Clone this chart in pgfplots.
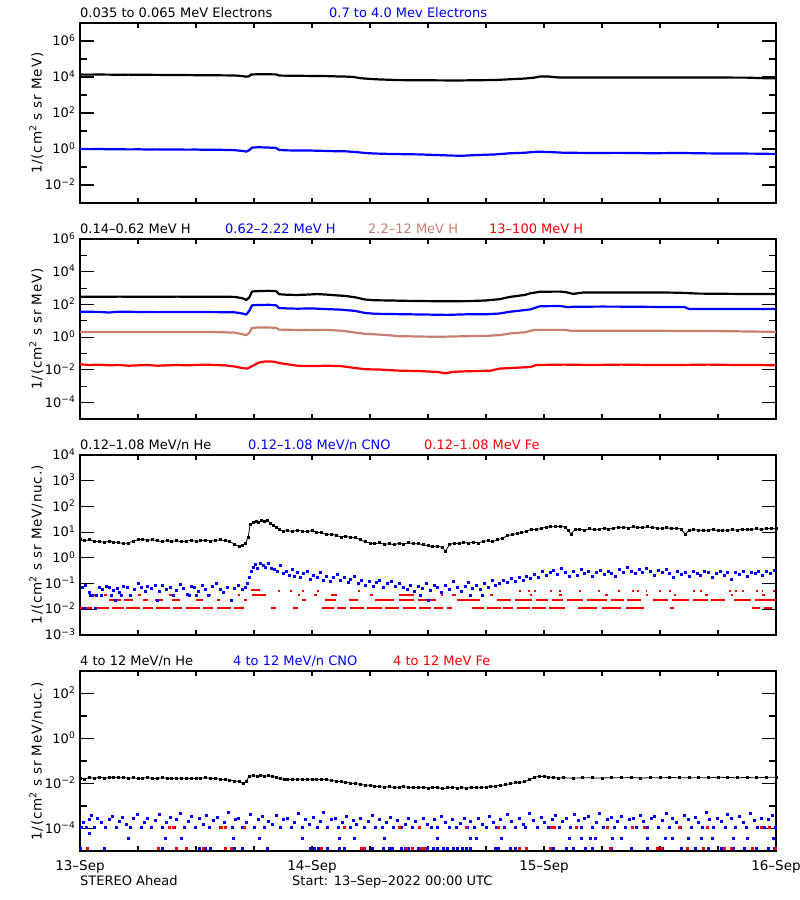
\documentclass[border=0pt]{standalone}
\usepackage{fontspec}
\setmainfont{DejaVu Sans}
\usepackage{pgfplots}
\pgfplotsset{compat=1.18}
\definecolor{cblue}{RGB}{0,0,255}
\definecolor{cred}{RGB}{255,0,0}
\definecolor{cbrown}{RGB}{200,128,110}
\newcommand{\tp}[1]{10\textsuperscript{#1}}
\newcommand{\lblfont}{\fontsize{13.5}{16}\selectfont\addfontfeature{LetterSpace=6}}
\pgfplotsset{
  panel/.style={
    anchor=south west, scale only axis, width=696pt, height=180pt,
    xmin=0, xmax=72,
    xtick={0,6,...,72}, xticklabels={},
    axis line style={line width=1.1pt},
    every tick/.style={black, line width=1.1pt},
    major tick length=14pt, minor tick length=7pt,
    xtick style={/pgfplots/major tick length=5pt},
    tick label style={font=\fontsize{13}{15}\selectfont},
    yticklabel style={anchor=base east, inner sep=0pt, xshift=-4.5pt, yshift=-4.6pt},
    clip=true,
  },
  ln/.style={line width=2.2pt, no markers, line join=round},
  dots/.style={only marks, mark=square*, mark size=1.0pt},
  seg/.style={line width=2.2pt, no markers, unbounded coords=jump},
}
\begin{document}
\begin{tikzpicture}[font=\fontsize{13}{15}\selectfont]
\useasboundingbox (0pt,0pt) rectangle (800pt,900pt);

% ---------------- Panel 1 ----------------
\begin{axis}[ymode=log, panel, at={(80pt,697pt)}, ymin=1e-3, ymax=1e7,
  ytick={1e-2,1,1e2,1e4,1e6}, yticklabels={\tp{−2},\tp{0},\tp{2},\tp{4},\tp{6}},
  minor ytick={1e-1,1e1,1e3,1e5}]
\addplot[ln, black] coordinates {
(0,13600) (1,13500) (2,13700) (3,13500) (4,13400) (5,13500) (6,13300) (7,13200) (8,13100) (9,13000)
(10,12900) (11,12800) (12,12600) (13,12500) (14,12400) (15,12300) (16,12100) (16.8,11300) (17.2,10400)
(17.5,11000) (17.7,13800) (18.5,14200) (19.5,14100) (20.3,13900) (20.6,12000) (21.5,11800) (22.5,11700)
(23.5,11500) (24.5,11300) (25.5,11200) (26.5,10800) (27.5,10500) (28.3,10000) (29,8600) (30,7800)
(31,7300) (32,7000) (33,6700) (35,6600) (37,6500) (39,6400) (41,6600) (43,6800) (44.5,7500) (46,8200)
(47,9200) (47.6,10700) (48.5,10600) (49.5,9400) (51,9300) (54,9400) (57,9300) (60,9300) (63,9250)
(66,9300) (69,9200) (71,8500) (72,8400)};
\addplot[ln, cblue] coordinates {
(0,1.02) (1,0.98) (2,1.0) (3,0.96) (4,0.97) (5,0.95) (6,0.96) (7,0.94) (8,0.95) (9,0.93) (10,0.94)
(11,0.92) (12,0.93) (13,0.9) (14,0.91) (15,0.89) (16,0.86) (16.8,0.78) (17.2,0.72) (17.5,0.85)
(17.8,1.2) (18.5,1.25) (19.5,1.2) (20.3,1.15) (20.6,0.88) (21.5,0.84) (22.5,0.82) (23.5,0.83)
(24.5,0.8) (25.5,0.78) (26.5,0.75) (27.5,0.74) (28.5,0.68) (29.5,0.6) (30.5,0.56) (31.5,0.54)
(33,0.52) (35,0.5) (37,0.46) (38.5,0.43) (39.5,0.42) (41,0.46) (43,0.5) (44.5,0.58) (46,0.62)
(47.3,0.71) (48.5,0.68) (50,0.62) (53,0.6) (56,0.61) (59,0.58) (62,0.6) (65,0.57) (68,0.56)
(70,0.55) (72,0.53)};
\end{axis}

% ---------------- Panel 2 ----------------
\begin{axis}[ymode=log, panel, at={(80pt,481pt)}, ymin=1e-5, ymax=1e6,
  ytick={1e-4,1e-2,1,1e2,1e4,1e6}, yticklabels={\tp{−4},\tp{−2},\tp{0},\tp{2},\tp{4},\tp{6}},
  minor ytick={1e-3,1e-1,1e1,1e3,1e5}]
\addplot[ln, black] coordinates {
(0,300) (2,295) (4,300) (6,298) (8,295) (10,300) (12,296) (14,298) (16,290) (16.8,240) (17.2,190)
(17.5,260) (17.8,620) (18.5,660) (19.5,680) (20.3,650) (20.6,420) (21.5,390) (22.5,380) (23.5,400)
(24.5,430) (25.5,400) (26.5,360) (27.5,330) (28.5,270) (29.5,200) (30.5,180) (32,175) (34,165)
(36,160) (38,155) (40,160) (42,175) (43.4,210) (44.5,290) (46,380) (46.6,480) (47.6,600) (49.7,610)
(50.3,560) (51,440) (52,530) (55,540) (58,530) (60,540) (62,520) (64,460) (66,450) (68,440) (70,440) (72,440)};
\addplot[ln, cblue] coordinates {
(0,36) (2,35) (3,32) (4,36) (6,35) (8,34) (10,35) (12,35) (14,34) (16,33) (16.8,28) (17.2,24)
(17.5,40) (17.8,90) (18.5,92) (19.5,95) (20.3,88) (20.6,60) (21.5,57) (22.5,55) (24,57) (25.5,52)
(27,48) (28.5,40) (29.5,30) (30.5,27) (32,26) (34,25) (36,24) (38,23) (40,25) (42,25) (43.4,28)
(44.5,36) (46,45) (46.6,50) (47.6,78) (49.7,80) (50.5,68) (51,72) (54,74) (57,73) (60,70) (62.5,70)
(63,53) (66,52) (69,52) (72,52)};
\addplot[ln, cbrown] coordinates {
(0,2.1) (2,2.05) (4,2.1) (6,2.05) (8,2.1) (10,2.05) (12,2.1) (14,2.05) (16,1.9) (16.8,1.5) (17.2,1.35)
(17.5,1.8) (17.8,3.7) (18.5,3.9) (19.5,3.9) (20.3,3.7) (20.6,2.9) (22,2.8) (24,2.7) (25.5,2.8) (27,2.5)
(28.5,1.9) (29.5,1.6) (30.5,1.5) (32,1.3) (33,1.15) (35,1.1) (37,1.05) (38.5,1.1) (40,1.15) (42,1.2)
(43.5,1.35) (44.5,1.7) (46,2.0) (47,2.8) (50,2.8) (50.7,2.5) (54,2.45) (58,2.5) (62,2.4) (66,2.35)
(70,2.2) (72,2.1)};
\addplot[ln, cred] coordinates {
(0,0.022) (1,0.02) (2,0.021) (3,0.019) (4,0.02) (5,0.018) (6,0.019) (7,0.02) (8,0.018) (9,0.019)
(10,0.02) (11,0.019) (12,0.02) (13,0.021) (14,0.02) (15,0.019) (16,0.016) (16.8,0.013) (17.3,0.012)
(17.8,0.017) (18.5,0.028) (19.2,0.033) (20,0.032) (20.8,0.025) (21.5,0.022) (22.5,0.018) (24,0.017)
(25.5,0.018) (27,0.017) (28.5,0.013) (29.5,0.011) (31,0.0105) (33,0.009) (35,0.0085) (37,0.0075)
(37.8,0.0062) (38.5,0.0075) (39.3,0.008) (41,0.0085) (42.5,0.009) (43.4,0.012) (45,0.0135)
(46.6,0.015) (47.2,0.02) (50,0.021) (53,0.02) (56,0.021) (59,0.02) (62,0.02) (65,0.021) (68,0.02)
(70,0.02) (72,0.019)};
\end{axis}

% ---------------- Panel 3 ----------------
\begin{axis}[ymode=log, panel, at={(80pt,265pt)}, ymin=1e-3, ymax=1e4,
  ytick={1e-3,1e-2,1e-1,1,1e1,1e2,1e3,1e4},
  yticklabels={\tp{−3},\tp{−2},\tp{−1},\tp{0},\tp{1},\tp{2},\tp{3},\tp{4}},
  yminorticks=false]
\addplot[seg, cred] coordinates {
(0,0.011) (1.2,0.011) (1.2,nan) (1.6,0.011) (3.0,0.011) (3.0,nan) (3.3,0.011) (4.5,0.011) (4.5,nan)
(4.8,0.011) (6.2,0.011) (6.2,nan) (6.5,0.011) (7.5,0.011) (7.5,nan) (7.9,0.011) (9.3,0.011) (9.3,nan)
(9.6,0.011) (10.6,0.011) (10.6,nan) (11.0,0.011) (12.4,0.011) (12.4,nan) (12.7,0.011) (13.8,0.011) (13.8,nan)
(14.2,0.011) (15.6,0.011) (15.6,nan) (15.9,0.011) (17.0,0.011) (17.0,nan) (19.8,0.011) (20.3,0.011) (20.3,nan)
(22.0,0.011) (22.5,0.011) (22.5,nan) (25.0,0.011) (26.3,0.011) (26.3,nan) (26.6,0.011) (27.5,0.011) (27.5,nan)
(27.9,0.011) (29.4,0.011) (29.4,nan) (29.7,0.011) (31.2,0.011) (31.2,nan) (31.5,0.011) (33.0,0.011) (33.0,nan)
(33.4,0.011) (34.8,0.011) (34.8,nan) (35.1,0.011) (36.3,0.011) (36.3,nan) (36.6,0.011) (37.6,0.011) (37.6,nan)
(38.0,0.011) (38.5,0.011) (38.5,nan) (40.5,0.011) (41.8,0.011) (41.8,nan) (42.1,0.011) (43.5,0.011) (43.5,nan)
(43.8,0.011) (44.8,0.011) (44.8,nan) (45.2,0.011) (46.5,0.011) (46.5,nan) (46.8,0.011) (48.2,0.011) (48.2,nan)
(48.5,0.011) (50.2,0.011) (50.2,nan) (51.5,0.011) (53.5,0.011) (53.5,nan) (54,0.011) (56,0.011) (56,nan)
(56.5,0.011) (58.3,0.011) (58.3,nan) (61,0.011) (61.4,0.011) (61.4,nan) (69.5,0.011) (70.3,0.011) (70.3,nan)
(70.8,0.011) (71.6,0.011) (71.6,nan)
(3.0,0.023) (4.2,0.023) (4.2,nan) (4.5,0.023) (5.5,0.023) (5.5,nan) (6.5,0.023) (7.0,0.023) (7.0,nan)
(7.8,0.023) (8.6,0.023) (8.6,nan) (9.5,0.023) (10.3,0.023) (10.3,nan) (12.0,0.023) (12.7,0.023) (12.7,nan)
(14.2,0.023) (14.5,0.023) (14.5,nan) (17.0,0.023) (17.3,0.023) (17.3,nan) (23.0,0.023) (23.4,0.023) (23.4,nan)
(25.3,0.023) (26.5,0.023) (26.5,nan) (27.8,0.023) (28.8,0.023) (28.8,nan) (30.5,0.023) (32.5,0.023) (32.5,nan)
(33.0,0.023) (34.6,0.023) (34.6,nan) (35.0,0.023) (36.8,0.023) (36.8,nan) (39.0,0.023) (41.4,0.023) (41.4,nan)
(43.1,0.023) (44.6,0.023) (44.6,nan) (45.0,0.023) (46.8,0.023) (46.8,nan) (47.2,0.023) (48.4,0.023) (48.4,nan)
(48.8,0.023) (50.0,0.023) (50.0,nan) (50.4,0.023) (52.0,0.023) (52.0,nan) (52.4,0.023) (54.5,0.023) (54.5,nan)
(54.9,0.023) (56.3,0.023) (56.3,nan) (56.6,0.023) (58.0,0.023) (58.0,nan) (59.3,0.023) (60.8,0.023) (60.8,nan)
(61.2,0.023) (63.0,0.023) (63.0,nan) (63.4,0.023) (65.0,0.023) (65.0,nan) (65.3,0.023) (66.7,0.023) (66.7,nan)
(67.7,0.023) (69.4,0.023) (69.4,nan) (69.8,0.023) (72,0.023) (72,nan)
(1.2,0.036) (1.5,0.036) (1.5,nan) (2.5,0.036) (2.8,0.036) (2.8,nan) (6.0,0.036) (6.3,0.036) (6.3,nan)
(9.2,0.036) (9.5,0.036) (9.5,nan) (13.2,0.036) (13.5,0.036) (13.5,nan) (16.3,0.036) (16.6,0.036) (16.6,nan)
(17.8,0.036) (19.2,0.036) (19.2,nan) (22.5,0.036) (22.8,0.036) (22.8,nan) (24.2,0.036) (24.5,0.036) (24.5,nan)
(26,0.036) (26.6,0.036) (26.6,nan) (30,0.036) (30.3,0.036) (30.3,nan) (33.0,0.036) (34.5,0.036) (34.5,nan)
(37.3,0.036) (37.6,0.036) (37.6,nan) (38.5,0.036) (38.9,0.036) (38.9,nan) (42.4,0.036) (42.7,0.036) (42.7,nan)
(46.5,0.036) (46.8,0.036) (46.8,nan) (49.6,0.036) (49.9,0.036) (49.9,nan) (54.3,0.036) (54.6,0.036) (54.6,nan)
(58.5,0.036) (58.8,0.036) (58.8,nan) (61.4,0.036) (61.7,0.036) (61.7,nan) (64.7,0.036) (65,0.036) (65,nan)
(67.3,0.036) (67.6,0.036) (67.6,nan) (70.6,0.036) (70.9,0.036) (70.9,nan)
(17.7,0.056) (18.6,0.056) (18.6,nan) (20.5,0.052) (20.7,0.052) (20.7,nan) (21.7,0.052) (21.9,0.052) (21.9,nan)
(23.0,0.052) (23.2,0.052) (23.2,nan) (24.5,0.052) (24.7,0.052) (24.7,nan) (28.8,0.052) (29,0.052) (29,nan)
(45.4,0.052) (45.6,0.052) (45.6,nan) (46.3,0.052) (46.5,0.052) (46.5,nan) (47.0,0.052) (47.2,0.052) (47.2,nan)
(48.6,0.052) (48.8,0.052) (48.8,nan) (49.6,0.052) (49.8,0.052) (49.8,nan) (51.6,0.052) (51.8,0.052) (51.8,nan)
(53.6,0.052) (53.8,0.052) (53.8,nan) (55.7,0.052) (55.9,0.052) (55.9,nan) (57.1,0.052) (57.3,0.052) (57.3,nan)
(57.6,0.052) (57.8,0.052) (57.8,nan) (58.5,0.052) (58.7,0.052) (58.7,nan) (59.9,0.052) (60.1,0.052) (60.1,nan)
(60.9,0.052) (61.1,0.052) (61.1,nan) (63.4,0.052) (63.6,0.052) (63.6,nan) (64.1,0.052) (64.3,0.052) (64.3,nan)
(67.1,0.052) (67.3,0.052) (67.3,nan) (67.8,0.052) (68.0,0.052) (68.0,nan) (68.5,0.052) (68.7,0.052) (68.7,nan)
(69.9,0.052) (70.1,0.052) (70.1,nan) (70.5,0.052) (70.7,0.052) (70.7,nan) (71.7,0.052) (71.9,0.052)};
\addplot[dots, cblue] coordinates {
(0.2,0.075) (0.5,0.085) (1.0,0.045) (1.3,0.036) (1.6,0.011) (2.0,0.07) (2.3,0.06) (2.7,0.08) (3.0,0.07)
(3.4,0.055) (3.8,0.065) (4.1,0.045) (4.5,0.08) (4.9,0.075) (5.2,0.036) (5.6,0.06) (6.0,0.1) (6.3,0.07)
(6.7,0.05) (7.0,0.08) (7.4,0.065) (7.8,0.09) (8.2,0.05) (8.5,0.085) (8.9,0.06) (9.3,0.075) (9.6,0.036)
(10.0,0.055) (10.4,0.095) (10.7,0.065) (11.1,0.04) (11.5,0.08) (11.8,0.07) (12.2,0.05) (12.6,0.09)
(13.0,0.06) (13.3,0.036) (13.7,0.08) (14.1,0.1) (14.5,0.06) (14.8,0.045) (15.2,0.075) (15.6,0.023)
(16.0,0.065) (16.4,0.085) (16.8,0.06) (17.1,0.075) (1.1,0.036) (1.7,0.036) (2.2,0.036) (3.2,0.036)
(4.3,0.036) (0.4,0.011) (3.6,0.023) (8.0,0.023) (11.3,0.036) (12.0,0.036)
(17.3,0.1) (17.5,0.18) (17.7,0.3) (17.9,0.45) (18.1,0.55) (18.3,0.4) (18.6,0.6) (18.9,0.5) (19.2,0.45)
(19.5,0.6) (19.8,0.4) (20.1,0.35) (20.4,0.3) (20.7,0.5) (21.0,0.25) (21.3,0.3) (21.6,0.22) (21.9,0.35)
(22.2,0.2) (22.5,0.28) (22.8,0.18) (23.1,0.25) (23.5,0.3) (23.8,0.15) (24.1,0.22) (24.5,0.18) (24.8,0.27)
(25.2,0.14) (25.5,0.2) (25.9,0.12) (26.2,0.17) (26.6,0.24) (26.9,0.13) (27.3,0.18) (27.7,0.11) (28.0,0.15)
(28.4,0.2) (28.8,0.1) (29.1,0.14) (29.5,0.09) (29.9,0.12) (30.3,0.08) (30.6,0.11) (31.0,0.14) (31.4,0.07)
(31.8,0.1) (32.2,0.12) (32.6,0.08) (33.0,0.1)
(33.4,0.075) (33.8,0.06) (34.2,0.09) (34.6,0.05) (35.0,0.08) (35.4,0.065) (35.8,0.1) (36.2,0.055)
(36.6,0.085) (37.0,0.07) (37.4,0.045) (37.8,0.09) (38.2,0.06) (38.6,0.12) (39.0,0.075) (39.4,0.05)
(39.8,0.08) (40.2,0.11) (40.6,0.065) (41.0,0.09) (41.4,0.06) (41.8,0.1) (42.2,0.07) (42.6,0.13)
(43.0,0.085) (43.4,0.1) (43.8,0.14) (44.2,0.11) (44.6,0.16) (45.0,0.12) (45.4,0.18) (45.8,0.14)
(46.2,0.2) (46.6,0.16) (47.0,0.24) (47.4,0.18) (47.8,0.3) (48.2,0.22) (48.6,0.27) (49.0,0.33) (49.4,0.24)
(49.8,0.4) (50.2,0.28) (50.6,0.2) (51.0,0.3) (51.4,0.22) (51.8,0.35) (52.2,0.25) (52.6,0.3) (53.0,0.2)
(53.4,0.27) (53.8,0.33) (54.2,0.24) (54.6,0.3) (55.0,0.26) (55.4,0.2) (55.8,0.35) (56.2,0.28) (56.6,0.42)
(57.0,0.3) (57.4,0.25) (57.8,0.36) (58.2,0.28) (58.6,0.4) (59.0,0.3) (59.4,0.22) (59.8,0.33) (60.2,0.27)
(60.6,0.37) (61.0,0.25) (61.4,0.18) (61.8,0.3) (62.2,0.24) (62.6,0.28) (63.0,0.2) (63.4,0.31) (63.8,0.26)
(64.2,0.22) (64.6,0.3) (65.0,0.27) (65.4,0.18) (65.8,0.25) (66.2,0.3) (66.6,0.22) (67.0,0.27) (67.4,0.15)
(67.8,0.28) (68.2,0.24) (68.6,0.31) (69.0,0.2) (69.4,0.27) (69.8,0.25) (70.2,0.3) (70.6,0.22) (71.0,0.29)
(71.4,0.26) (71.8,0.33) (35.2,0.036) (36.0,0.023) (40.4,0.036) (41.6,0.036)};
\addplot[black, line width=0.8pt, mark=square*, mark size=1.0pt] coordinates {
(0.0,5.0) (0.5,4.6) (1.0,5.2) (1.5,4.2) (2.0,4.4) (2.5,4.0) (3.0,4.5) (3.5,4.1) (4.0,3.9) (4.5,3.6)
(5.0,3.8) (5.5,4.5) (6.0,5.0) (6.5,5.3) (7.0,4.8) (7.5,5.1) (8.0,4.6) (8.5,4.3) (9.0,4.7) (9.5,4.4)
(10.0,4.6) (10.5,4.2) (11.0,4.5) (11.5,4.8) (12.0,4.4) (12.5,4.6) (13.0,4.9) (13.5,4.5) (14.0,4.7)
(14.5,5.0) (15.0,4.6) (15.5,4.3) (16.0,3.4) (16.5,2.7) (16.8,3.0) (17.1,3.6) (17.4,6.5) (17.6,20)
(17.9,24) (18.2,26) (18.5,25) (18.8,28) (19.1,27) (19.4,29) (19.7,22) (20.0,18) (20.3,15) (20.6,13)
(21.0,11) (21.5,11.5) (22.0,10.5) (22.5,12) (23.0,11) (23.5,10.5) (24.0,11.5) (24.5,10) (25.0,9.5)
(25.5,8.0) (26.0,8.5) (26.5,7.5) (27.0,6.5) (27.5,7.0) (28.0,6.0) (28.5,6.3) (29.0,5.0) (29.5,4.2)
(30.0,3.8) (30.5,3.5) (31.0,3.9) (31.5,3.3) (32.0,3.6) (32.5,3.2) (33.0,3.7) (33.5,3.4) (34.0,3.9)
(34.5,3.5) (35.0,3.6) (35.5,3.2) (36.0,3.0) (36.5,2.7) (37.0,2.9) (37.5,2.5) (37.8,1.8) (38.2,3.2)
(38.7,3.8) (39.2,3.5) (39.7,4.0) (40.2,3.7) (40.7,4.1) (41.2,3.8) (41.7,4.4) (42.2,4.6) (42.7,4.3)
(43.2,5.0) (43.7,5.8) (44.2,7.2) (44.7,8.0) (45.2,8.8) (45.7,9.5) (46.2,11) (46.7,13) (47.2,12.5)
(47.7,14) (48.2,15.5) (48.7,16.5) (49.2,16) (49.7,17) (50.2,15.5) (50.5,11.5) (50.8,8.5) (51.2,12.5)
(51.7,13) (52.2,12) (52.7,13.5) (53.2,12.5) (53.7,13) (54.2,14) (54.7,13) (55.2,14.5) (55.7,15)
(56.2,15.5) (56.7,14.5) (57.2,16) (57.7,15.5) (58.2,15) (58.7,16) (59.2,15) (59.7,14.5) (60.2,14)
(60.7,15) (61.2,13.5) (61.7,14.5) (62.2,13) (62.6,8.5) (63.0,11.5) (63.5,12.5) (64.0,12) (64.5,11.5)
(65.0,12) (65.5,12.5) (66.0,11.5) (66.5,12) (67.0,11.8) (67.5,12.3) (68.0,12) (68.5,13) (69.0,12.5)
(69.5,13) (70.0,13.5) (70.5,12.8) (71.0,13.6) (71.5,14) (72.0,13.5)};
\end{axis}

% ---------------- Panel 4 ----------------
\begin{axis}[ymode=log, panel, at={(80pt,49pt)}, ymin=1e-5, ymax=1e3,
  ytick={1e-4,1e-2,1,1e2}, yticklabels={\tp{−4},\tp{−2},\tp{0},\tp{2}},
  minor ytick={1e-3,1e-1,1e1},
  xticklabels={13–Sep,,,,14–Sep,,,,15–Sep,,,,16–Sep},
  xticklabel style={anchor=base, inner sep=0pt, yshift=-19pt, font=\fontsize{13.5}{16}\selectfont}]
\addplot[dots, cblue] coordinates {
(0.1,1.2e-4) (0.3,2.0e-4) (0.6,1.2e-4) (0.9,2.5e-4) (1.2,4.0e-4) (1.5,1.2e-4) (1.8,3.0e-4) (2.2,2.0e-4)
(2.6,1.2e-4) (3.0,2.6e-4) (3.3,3.5e-4) (3.7,1.2e-4) (4.1,2.2e-4) (4.4,3.2e-4) (4.8,1.6e-4) (5.2,1.2e-4)
(5.5,2.8e-4) (5.9,4.2e-4) (6.3,1.2e-4) (6.6,2.0e-4) (7.0,3.0e-4) (7.4,1.2e-4) (7.8,2.4e-4) (8.2,4.5e-4)
(8.5,1.2e-4) (8.9,2.0e-4) (9.3,3.3e-4) (9.7,1.2e-4) (10.0,2.6e-4) (10.4,5.0e-4) (10.8,1.2e-4) (11.2,2.2e-4)
(11.5,3.6e-4) (11.9,1.2e-4) (12.3,2.8e-4) (12.7,1.6e-4) (13.1,4.0e-4) (13.4,1.2e-4) (13.8,2.4e-4)
(14.2,3.2e-4) (14.5,1.2e-4) (14.9,2.0e-4) (15.3,5.5e-4) (15.7,1.2e-4) (16.1,2.6e-4) (16.4,3.0e-4)
(16.8,1.2e-4) (17.2,2.0e-4) (17.6,4.2e-4) (18.0,1.2e-4) (18.4,2.6e-4) (18.8,3.4e-4) (19.1,1.2e-4)
(19.5,2.2e-4) (19.9,1.6e-4) (20.3,3.8e-4) (20.7,1.2e-4) (21.0,2.5e-4) (21.4,2.9e-4) (21.8,1.2e-4)
(22.2,2.0e-4) (22.6,4.6e-4) (23.0,1.2e-4) (23.3,2.6e-4) (23.7,1.6e-4) (24.1,3.1e-4) (24.5,1.2e-4)
(24.8,2.2e-4) (25.2,5.2e-4) (25.6,1.2e-4) (26.0,2.5e-4) (26.4,3.0e-4) (26.7,1.2e-4) (27.1,2.0e-4)
(27.5,3.6e-4) (27.9,1.2e-4) (28.3,2.4e-4) (28.6,1.6e-4) (29.0,2.9e-4) (29.4,1.2e-4) (29.8,2.2e-4)
(30.2,3.8e-4) (30.5,1.2e-4) (30.9,2.6e-4) (31.3,1.2e-4) (31.7,2.0e-4) (32.1,3.2e-4) (32.4,1.2e-4)
(32.8,2.4e-4) (33.2,1.2e-4) (33.6,1.6e-4) (34.0,2.8e-4) (34.4,1.2e-4) (34.7,2.2e-4) (35.1,1.2e-4)
(35.5,3.0e-4) (35.9,1.6e-4) (36.3,1.2e-4) (36.6,2.5e-4) (37.0,1.2e-4) (37.4,3.4e-4) (37.8,2.0e-4)
(38.2,1.2e-4) (38.5,2.6e-4) (38.9,1.2e-4) (39.3,1.8e-4) (39.7,3.0e-4) (40.1,1.2e-4) (40.4,2.2e-4)
(40.8,1.2e-4) (41.2,2.8e-4) (41.6,1.6e-4) (42.0,1.2e-4) (42.3,3.6e-4) (42.7,2.0e-4) (43.1,1.2e-4)
(43.5,2.6e-4) (43.9,1.2e-4) (44.2,4.4e-4) (44.6,2.2e-4) (45.0,1.2e-4) (45.4,3.0e-4) (45.8,1.6e-4)
(46.1,1.2e-4) (46.5,4.8e-4) (46.9,2.4e-4) (47.3,1.2e-4) (47.7,3.3e-4) (48.0,2.0e-4) (48.4,1.2e-4)
(48.8,2.7e-4) (49.2,3.8e-4) (49.6,1.2e-4) (49.9,2.2e-4) (50.3,3.0e-4) (50.7,1.2e-4) (51.1,4.2e-4)
(51.5,2.4e-4) (51.8,1.2e-4) (52.2,2.8e-4) (52.6,3.4e-4) (53.0,1.2e-4) (53.4,2.0e-4) (53.7,4.6e-4)
(54.1,1.2e-4) (54.5,2.6e-4) (54.9,3.2e-4) (55.3,1.2e-4) (55.6,2.2e-4) (56.0,3.6e-4) (56.4,1.2e-4)
(56.8,2.5e-4) (57.2,3.0e-4) (57.5,1.2e-4) (57.9,4.0e-4) (58.3,2.2e-4) (58.7,1.2e-4) (59.1,2.8e-4)
(59.4,3.5e-4) (59.8,1.2e-4) (60.2,2.4e-4) (60.6,5.0e-4) (61.0,1.2e-4) (61.3,3.0e-4) (61.7,2.0e-4)
(62.1,1.2e-4) (62.5,3.8e-4) (62.9,2.5e-4) (63.2,1.2e-4) (63.6,3.2e-4) (64.0,2.0e-4) (64.4,1.2e-4)
(64.8,5.5e-4) (65.1,2.6e-4) (65.5,1.2e-4) (65.9,3.0e-4) (66.3,2.2e-4) (66.7,1.2e-4) (67.0,4.2e-4)
(67.4,2.8e-4) (67.8,1.2e-4) (68.2,3.4e-4) (68.6,2.0e-4) (68.9,1.2e-4) (69.3,4.6e-4) (69.7,2.4e-4)
(70.1,1.2e-4) (70.5,3.0e-4) (70.8,1.2e-4) (71.2,2.6e-4) (71.6,4.0e-4) (71.9,1.2e-4)
(1.0,6e-5) (5.0,3.8e-5) (8.8,3.8e-5) (10.5,3.8e-5) (15.8,3.8e-5) (18.5,3.8e-5) (23.0,3.8e-5) (26.8,3.8e-5)
(28.4,3.8e-5) (31.5,3.8e-5) (37.0,3.8e-5) (40.4,3.8e-5) (41.0,3.8e-5) (43.6,3.8e-5) (50.6,3.8e-5)
(51.8,3.8e-5) (52.8,3.8e-5) (53.3,3.8e-5) (55.1,3.8e-5) (56.0,3.8e-5) (58.7,3.8e-5) (60.5,3.8e-5)
(61.3,3.8e-5) (62.9,3.8e-5) (64.3,3.8e-5) (65.4,3.8e-5) (67.6,3.8e-5) (69.0,3.8e-5) (71.7,3.8e-5)
(0.0,1.35e-5) (2.5,1.35e-5) (8.5,1.35e-5) (10.0,1.35e-5) (12.3,1.35e-5) (12.9,1.35e-5) (13.5,1.35e-5)
(16.0,1.35e-5) (16.8,1.35e-5) (19.4,1.35e-5) (23.8,1.35e-5) (24.2,1.35e-5) (24.6,1.35e-5) (25.0,1.35e-5)
(25.6,1.35e-5) (26.8,1.35e-5) (27.3,1.35e-5) (29.4,1.35e-5) (30.2,1.35e-5) (31.4,1.35e-5) (32.0,1.35e-5)
(32.3,1.35e-5) (33.2,1.35e-5) (33.6,1.35e-5) (34.0,1.35e-5) (34.4,1.35e-5) (35.0,1.35e-5) (35.5,1.35e-5)
(35.9,1.35e-5) (36.5,1.35e-5) (37.0,1.35e-5) (37.6,1.35e-5) (38.0,1.35e-5) (38.6,1.35e-5) (39.0,1.35e-5)
(39.5,1.35e-5) (40.0,1.35e-5) (40.4,1.35e-5) (42.9,1.35e-5) (43.3,1.35e-5) (44.5,1.35e-5) (45.0,1.35e-5)
(48.6,1.35e-5) (49.0,1.35e-5) (50.3,1.35e-5) (51.0,1.35e-5) (52.3,1.35e-5) (53.0,1.35e-5) (55.0,1.35e-5)
(57.0,1.35e-5) (58.7,1.35e-5) (60.2,1.35e-5) (62.2,1.35e-5) (63.6,1.35e-5) (65.0,1.35e-5) (66.3,1.35e-5)
(67.6,1.35e-5) (68.7,1.35e-5) (70.0,1.35e-5) (71.2,1.35e-5) (71.8,1.35e-5)};
\addplot[dots, cred] coordinates {
(9.2,1.1e-4) (9.6,1.1e-4) (14.6,1.1e-4) (15.0,1.1e-4) (17.0,1.1e-4) (27.3,1.1e-4) (33.0,1.1e-4)
(35.1,1.1e-4) (40.0,1.1e-4) (43.3,1.1e-4) (48.7,1.1e-4) (49.1,1.1e-4) (51.3,1.1e-4) (54.5,1.1e-4)
(57.1,1.1e-4) (58.4,1.1e-4) (62.0,1.1e-4) (64.9,1.1e-4) (70.5,1.1e-4) (71.3,1.1e-4)
(0.7,1.35e-5) (8.1,1.35e-5) (9.9,1.35e-5) (11.0,1.35e-5) (12.7,1.35e-5) (15.0,1.35e-5) (15.6,1.35e-5)
(24.9,1.35e-5) (29.1,1.35e-5) (29.3,1.35e-5) (33.7,1.35e-5) (34.4,1.35e-5) (35.3,1.35e-5) (35.6,1.35e-5)
(45.4,1.35e-5) (46.2,1.35e-5) (48.6,1.35e-5) (54.8,1.35e-5) (59.7,1.35e-5) (60.1,1.35e-5) (62.8,1.35e-5)
(64.5,1.35e-5) (66.6,1.35e-5) (67.4,1.35e-5) (69.5,1.35e-5) (71.9,1.35e-5)};
\addplot[black, line width=0.8pt, mark=square*, mark size=1.0pt] coordinates {
(0.0,0.0175) (0.5,0.016) (1.0,0.0185) (1.5,0.017) (2.0,0.019) (2.5,0.0175) (3.0,0.018) (3.5,0.0195)
(4.0,0.0178) (4.5,0.0185) (5.0,0.017) (5.5,0.018) (6.0,0.0168) (6.5,0.0175) (7.0,0.0182) (7.5,0.0165)
(8.0,0.017) (8.5,0.0178) (9.0,0.0172) (9.5,0.0165) (10.0,0.0175) (10.5,0.0168) (11.0,0.0172)
(11.5,0.0165) (12.0,0.017) (12.5,0.0175) (13.0,0.018) (13.5,0.0172) (14.0,0.0165) (14.5,0.0155)
(15.0,0.0145) (15.5,0.014) (16.0,0.013) (16.5,0.0122) (16.9,0.0098) (17.2,0.0125) (17.5,0.021)
(17.9,0.022) (18.3,0.0215) (18.7,0.0225) (19.1,0.021) (19.5,0.022) (19.9,0.0205) (20.3,0.019)
(20.7,0.0165) (21.1,0.015) (21.5,0.0155) (22.0,0.0148) (22.5,0.016) (23.0,0.015) (23.5,0.0152)
(24.0,0.0158) (24.5,0.0145) (25.0,0.0155) (25.5,0.015) (26.0,0.0138) (26.5,0.0128) (27.0,0.012)
(27.5,0.0112) (28.0,0.0105) (28.5,0.0098) (29.0,0.0092) (29.5,0.0085) (30.0,0.0082) (30.5,0.0076)
(31.0,0.0072) (31.5,0.0068) (32.0,0.0072) (32.5,0.0066) (33.0,0.0070) (33.5,0.0072) (34.0,0.0066)
(34.5,0.0068) (35.0,0.0064) (35.5,0.0070) (36.0,0.0062) (36.5,0.0066) (37.0,0.0068) (37.5,0.0058)
(38.0,0.0064) (38.5,0.0067) (39.0,0.0063) (39.5,0.0066) (40.0,0.0062) (40.5,0.0068) (41.0,0.0064)
(41.5,0.0066) (42.0,0.0070) (42.5,0.0072) (43.0,0.0078) (43.5,0.0082) (44.0,0.0088) (44.5,0.0098)
(45.0,0.0108) (45.5,0.0112) (46.0,0.0122) (46.5,0.0148) (47.0,0.0185) (47.5,0.021) (48.0,0.0205)
(48.5,0.019) (49.0,0.0185) (49.5,0.0175) (50,0.018) (51,0.0172) (52,0.018) (53,0.0178) (54,0.0175)
(55,0.0182) (56,0.0178) (57,0.0185) (58,0.0175) (59,0.018) (60,0.0178) (61,0.0185) (62,0.018)
(63,0.0178) (64,0.0182) (65,0.0178) (66,0.019) (67,0.0185) (68,0.018) (69,0.0185) (70,0.0178)
(71,0.019) (72,0.0188)};
\end{axis}

% ---------------- Titles and labels ----------------
\begin{scope}[every node/.style={inner sep=0pt}]
\node[anchor=base west] at (80pt,882.5pt) {0.035 to 0.065 MeV Electrons};
\node[anchor=base west, text=cblue] at (329pt,882.5pt) {0.7 to 4.0 Mev Electrons};
\node[anchor=base west] at (80pt,666.5pt) {0.14–0.62 MeV H};
\node[anchor=base west, text=cblue] at (225pt,666.5pt) {0.62–2.22 MeV H};
\node[anchor=base west, text=cbrown] at (368pt,666.5pt) {2.2–12 MeV H};
\node[anchor=base west, text=cred] at (489pt,666.5pt) {13–100 MeV H};
\node[anchor=base west] at (80pt,450.7pt) {0.12–1.08 MeV/n He};
\node[anchor=base west, text=cblue] at (248pt,450.7pt) {0.12–1.08 MeV/n CNO};
\node[anchor=base west, text=cred] at (424pt,450.7pt) {0.12–1.08 MeV Fe};
\node[anchor=base west] at (80pt,234.3pt) {4 to 12 MeV/n He};
\node[anchor=base west, text=cblue] at (233pt,234.3pt) {4 to 12 MeV/n CNO};
\node[anchor=base west, text=cred] at (393pt,234.3pt) {4 to 12 MeV Fe};
\node[anchor=base west] at (80pt,14.3pt) {STEREO Ahead};
\node[anchor=base west] at (292pt,14.3pt) {Start: 13–Sep–2022 00:00 UTC};
\node[rotate=90, anchor=base, font=\lblfont] at (41.5pt,786.7pt) {1/(cm\textsuperscript{2} s sr MeV)};
\node[rotate=90, anchor=base, font=\lblfont] at (41.5pt,571pt) {1/(cm\textsuperscript{2} s sr MeV)};
\node[rotate=90, anchor=base, font=\lblfont] at (41.5pt,355pt) {1/(cm\textsuperscript{2} s sr MeV/nuc.)};
\node[rotate=90, anchor=base, font=\lblfont] at (41.5pt,138.7pt) {1/(cm\textsuperscript{2} s sr MeV/nuc.)};
\end{scope}
\end{tikzpicture}
\end{document}
